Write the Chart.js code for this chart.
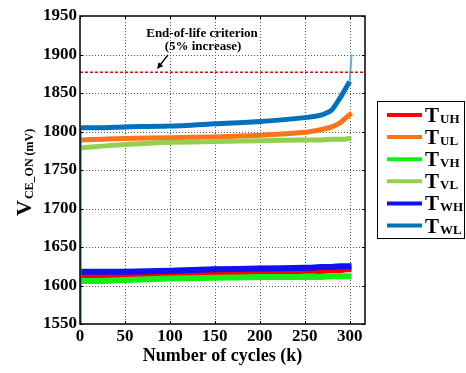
<!DOCTYPE html>
<html>
<head>
<meta charset="utf-8">
<script src="https://cdn.jsdelivr.net/npm/chart.js@4.4.1/dist/chart.umd.min.js"></script>
<style>
  html, body { margin: 0; padding: 0; background: #fff; }
  #wrap { width: 466px; height: 373px; }
</style>
</head>
<body>
<div id="wrap"><canvas id="vceChart" width="466" height="373"></canvas></div>
<script>
// cycle counts (k) where each switch's on-state voltage is sampled
const cycles = [0, 1, 25, 50, 100, 150, 200, 250, 270, 280, 290, 295, 300, 302];

// V_CE_ON per switch, mV
const tUH = [1550, 1612, 1612, 1613, 1614, 1616, 1617, 1619, 1619, 1620, 1620, 1621, 1621, 1621];
const tUL = [1550, 1789, 1790, 1791, 1792, 1793, 1795, 1799, 1803, 1806, 1812, 1817, 1822, 1824];
const tVH = [1550, 1606, 1606, 1607, 1609, 1610, 1611, 1611, 1611, 1612, 1612, 1612, 1612, 1612];
const tVL = [1550, 1779, 1781, 1783, 1786, 1787, 1788, 1789, 1789, 1790, 1790, 1790, 1791, 1791];
const tWH = [1550, 1618, 1618, 1618, 1619, 1621, 1622, 1623, 1624, 1624, 1625, 1625, 1625, 1625];
const tWL = [1550, 1805, 1805, 1806, 1807, 1810, 1813, 1818, 1822, 1828, 1845, 1855, 1865, 1900];

const switchNames = ['UH', 'UL', 'VH', 'VL', 'WH', 'WL'];
const switchColors = ['#FF0000', '#FF7418', '#14F014', '#92D050', '#1010F0', '#0072BD'];
const switchData = [tUH, tUL, tVH, tVL, tWH, tWL];

const eolLimit = 1877;          // 5% above the initial ~1788 mV
const xTicks = [0, 50, 100, 150, 200, 250, 300];
const yTicks = [1550, 1600, 1650, 1700, 1750, 1800, 1850, 1900, 1950];

const serif = '"Liberation Serif", "Times New Roman", serif';

const toPts = (vals, from, to) =>
  vals.slice(from, to).map((v, i) => ({ x: cycles[i + from], y: v }));

const lastIdx = cycles.length - 1;

const datasets = switchData.map((vals, i) => ({
  label: 'T' + switchNames[i],
  // WL's final jump is drawn thin below
  data: toPts(vals, 1, i === 5 ? lastIdx : undefined),
  borderColor: switchColors[i],
  borderWidth: i % 2 === 0 || i === 4 ? 6 : 5,
  pointRadius: 0,
  tension: 0.2,
  order: 10 - i
}));

// thin rise of the first WL sample at the start of the test
datasets.push({
  label: 'WL start',
  data: toPts(tWL, 0, 2),
  borderColor: '#1a8fb0',
  borderWidth: 1.5,
  pointRadius: 0,
  order: 1
});

// WL failure jump at the end
datasets.push({
  label: 'WL end',
  data: toPts(tWL, lastIdx - 1),
  borderColor: '#5AB0E0',
  borderWidth: 2,
  pointRadius: 0,
  order: 1
});

datasets.push({
  label: 'EOL',
  data: [{ x: 0, y: eolLimit }, { x: 317, y: eolLimit }],
  borderColor: '#D01010',
  borderWidth: 1.5,
  borderDash: [3, 2],
  pointRadius: 0,
  order: 0
});

function drawSubLabel(ctx, x, y, main, sub, mainSize, subSize, subDrop) {
  ctx.font = 'bold ' + mainSize + 'px ' + serif;
  ctx.fillText(main, x, y);
  const w = ctx.measureText(main).width;
  ctx.font = 'bold ' + subSize + 'px ' + serif;
  ctx.fillText(sub, x + w + 1, y + subDrop);
}

const overlay = {
  id: 'overlay',
  beforeDatasetsDraw(chart) {
    const { ctx, chartArea: a, scales } = chart;
    ctx.save();
    ctx.strokeStyle = '#555';
    ctx.lineWidth = 1;
    ctx.setLineDash([1, 2]);
    xTicks.forEach(t => {
      const px = Math.round(scales.x.getPixelForValue(t)) + 0.5;
      if (px <= a.left + 1) return;
      ctx.beginPath(); ctx.moveTo(px, a.top); ctx.lineTo(px, a.bottom); ctx.stroke();
    });
    yTicks.forEach(t => {
      const py = Math.round(scales.y.getPixelForValue(t)) + 0.5;
      if (py <= a.top + 1 || py >= a.bottom - 1) return;
      ctx.beginPath(); ctx.moveTo(a.left, py); ctx.lineTo(a.right, py); ctx.stroke();
    });
    ctx.restore();
  },
  afterDraw(chart) {
    const { ctx, chartArea: a, scales } = chart;
    ctx.save();

    // axes box with inward ticks
    ctx.strokeStyle = '#000';
    ctx.lineWidth = 1.5;
    ctx.strokeRect(a.left, a.top, a.right - a.left, a.bottom - a.top);
    ctx.lineWidth = 1;
    xTicks.forEach(t => {
      const px = Math.round(scales.x.getPixelForValue(t)) + 0.5;
      ctx.beginPath();
      ctx.moveTo(px, a.bottom); ctx.lineTo(px, a.bottom - 3);
      ctx.moveTo(px, a.top); ctx.lineTo(px, a.top + 3);
      ctx.stroke();
    });
    yTicks.forEach(t => {
      const py = Math.round(scales.y.getPixelForValue(t)) + 0.5;
      ctx.beginPath();
      ctx.moveTo(a.left, py); ctx.lineTo(a.left + 3, py);
      ctx.moveTo(a.right, py); ctx.lineTo(a.right - 3, py);
      ctx.stroke();
    });

    // end-of-life note and arrow
    ctx.fillStyle = '#000';
    ctx.textAlign = 'center';
    ctx.textBaseline = 'alphabetic';
    ctx.font = 'bold 13px ' + serif;
    ctx.fillText('End-of-life criterion', 202, 37);
    ctx.fillText('(5% increase)', 203, 50);
    const ax0 = 168, ay0 = 55, ax1 = 157, ay1 = 69;
    ctx.lineWidth = 1.3;
    ctx.beginPath(); ctx.moveTo(ax0, ay0); ctx.lineTo(ax1 + 3, ay1 - 4); ctx.stroke();
    const ang = Math.atan2(ay1 - ay0, ax1 - ax0);
    ctx.beginPath();
    ctx.moveTo(ax1, ay1);
    ctx.lineTo(ax1 - 7 * Math.cos(ang - 0.45), ay1 - 7 * Math.sin(ang - 0.45));
    ctx.lineTo(ax1 - 7 * Math.cos(ang + 0.45), ay1 - 7 * Math.sin(ang + 0.45));
    ctx.closePath(); ctx.fill();

    // axis titles
    ctx.textAlign = 'center';
    ctx.font = 'bold 18px ' + serif;
    ctx.fillText('Number of cycles (k)', (a.left + a.right) / 2, 361);

    ctx.save();
    ctx.translate(31, 216);
    ctx.rotate(-Math.PI / 2);
    ctx.textAlign = 'left';
    ctx.font = 'bold 22px ' + serif;
    ctx.fillText('V', 0, 0);
    const vw = ctx.measureText('V').width;
    ctx.font = 'bold 12px ' + serif;
    ctx.fillText('CE_ON (mV)', vw + 1, 2);
    ctx.restore();

    // legend
    const lx = 377, ly = 101, lw = 87, lh = 137;
    ctx.fillStyle = '#fff';
    ctx.fillRect(lx, ly, lw, lh);
    ctx.strokeStyle = '#000';
    ctx.lineWidth = 1;
    ctx.strokeRect(lx + 0.5, ly + 0.5, lw, lh);
    ctx.textAlign = 'left';
    switchNames.forEach((n, i) => {
      const y = 115 + i * 22.1;
      ctx.strokeStyle = switchColors[i];
      ctx.lineWidth = 4;
      ctx.beginPath(); ctx.moveTo(387, y); ctx.lineTo(422, y); ctx.stroke();
      ctx.fillStyle = '#000';
      drawSubLabel(ctx, 425, y + 7, 'T', n, 21, 13, 1);
    });

    ctx.restore();
  }
};

new Chart(document.getElementById('vceChart'), {
  type: 'line',
  data: { datasets },
  options: {
    responsive: false,
    animation: false,
    events: [],
    layout: { padding: { left: 0, top: 16, right: 101, bottom: 0 } },
    plugins: { legend: { display: false }, tooltip: { enabled: false } },
    scales: {
      x: {
        type: 'linear',
        min: 0,
        max: 317,
        afterFit: s => { s.height = 49; },
        afterBuildTicks: s => { s.ticks = xTicks.map(v => ({ value: v })); },
        grid: { display: false, drawTicks: false },
        border: { display: false },
        ticks: {
          color: '#000', padding: 2, maxRotation: 0,
          font: { family: serif, size: 17, weight: 'bold' },
          callback: v => String(v)
        }
      },
      y: {
        type: 'linear',
        min: 1550,
        max: 1950,
        afterFit: s => { s.width = 80; },
        afterBuildTicks: s => { s.ticks = yTicks.map(v => ({ value: v })); },
        grid: { display: false, drawTicks: false },
        border: { display: false },
        ticks: {
          color: '#000', padding: 3,
          font: { family: serif, size: 17, weight: 'bold' },
          callback: v => String(v)
        }
      }
    }
  },
  plugins: [overlay]
});
</script>
</body>
</html>
